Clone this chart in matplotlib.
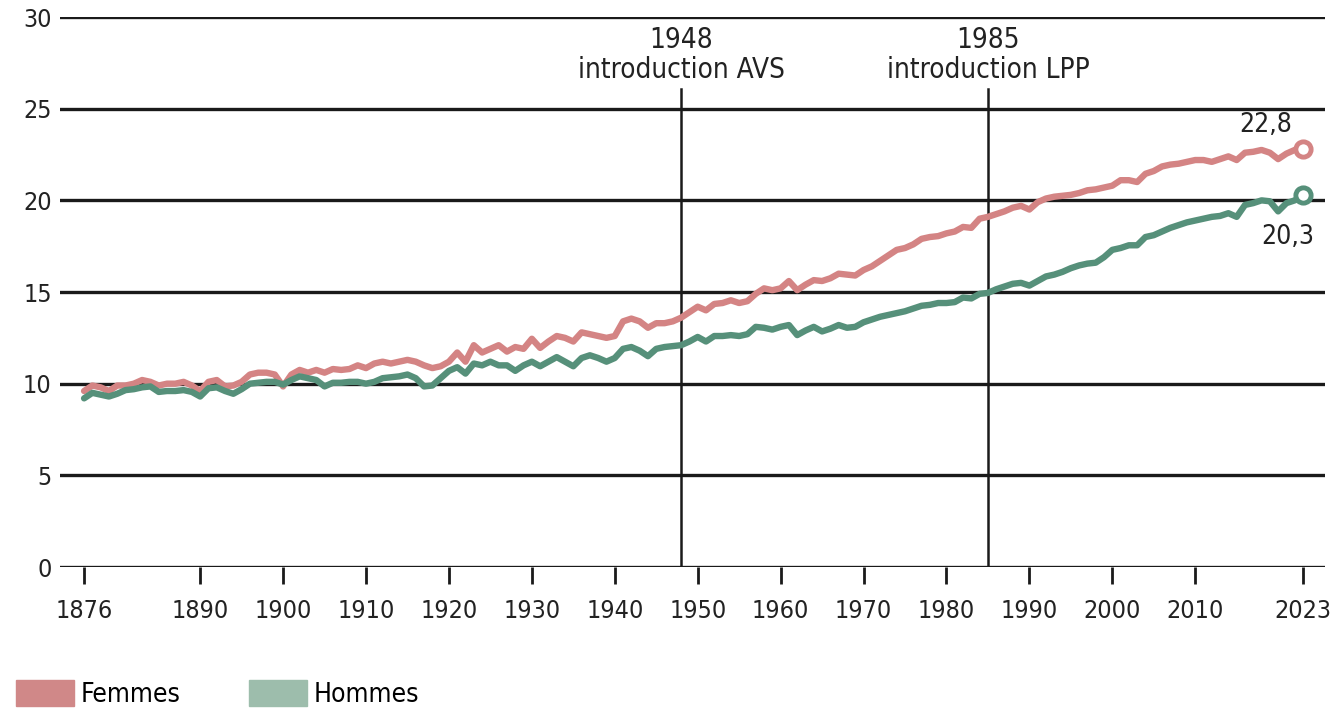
import matplotlib
matplotlib.use("Agg")
import matplotlib.pyplot as plt
from matplotlib.patches import Patch
from matplotlib import font_manager

# data: life expectancy at 65, yearly 1876-2023
years = list(range(1876, 2024))

femmes = [
    9.6, 9.9, 9.8, 9.6, 9.9, 9.9, 10.0, 10.2, 10.1, 9.9,
    10.0, 10.0, 10.1, 9.9, 9.6, 10.1, 10.2, 9.85, 9.9, 10.1,
    10.5, 10.6, 10.6, 10.5, 9.85, 10.5, 10.75, 10.6, 10.75, 10.6,
    10.8, 10.75, 10.8, 11.0, 10.85, 11.1, 11.2, 11.1, 11.2, 11.3,
    11.2, 11.0, 10.85, 10.95, 11.2, 11.7, 11.2, 12.1, 11.7, 11.9,
    12.1, 11.75, 12.0, 11.9, 12.45, 11.95, 12.3, 12.6, 12.5, 12.3,
    12.8, 12.7, 12.6, 12.5, 12.6, 13.4, 13.55, 13.4, 13.05, 13.3,
    13.3, 13.4, 13.6, 13.9, 14.2, 14.0, 14.35, 14.4, 14.55, 14.4,
    14.5, 14.9, 15.2, 15.1, 15.2, 15.6, 15.1, 15.4, 15.65, 15.6,
    15.75, 16.0, 15.95, 15.9, 16.2, 16.4, 16.7, 17.0, 17.3, 17.4,
    17.6, 17.9, 18.0, 18.05, 18.2, 18.3, 18.55, 18.5, 19.0, 19.1,
    19.25, 19.4, 19.6, 19.7, 19.5, 19.9, 20.1, 20.2, 20.25, 20.3,
    20.4, 20.55, 20.6, 20.7, 20.8, 21.1, 21.1, 21.0, 21.45, 21.6,
    21.85, 21.95, 22.0, 22.1, 22.2, 22.2, 22.1, 22.25, 22.4, 22.2,
    22.6, 22.65, 22.75, 22.6, 22.25, 22.55, 22.75, 22.8,
]

hommes = [
    9.2, 9.5, 9.4, 9.3, 9.45, 9.65, 9.7, 9.8, 9.85, 9.55,
    9.6, 9.6, 9.65, 9.55, 9.3, 9.75, 9.8, 9.6, 9.45, 9.7,
    10.0, 10.05, 10.1, 10.1, 9.95, 10.2, 10.4, 10.3, 10.2, 9.85,
    10.05, 10.05, 10.1, 10.1, 10.0, 10.1, 10.3, 10.35, 10.4, 10.5,
    10.3, 9.85, 9.9, 10.3, 10.7, 10.9, 10.55, 11.1, 11.0, 11.2,
    11.0, 11.0, 10.7, 11.0, 11.2, 10.95, 11.2, 11.45, 11.2, 10.95,
    11.4, 11.55, 11.4, 11.2, 11.4, 11.9, 12.0, 11.8, 11.5, 11.9,
    12.0, 12.05, 12.1, 12.3, 12.55, 12.3, 12.6, 12.6, 12.65, 12.6,
    12.7, 13.1, 13.05, 12.95, 13.1, 13.2, 12.65, 12.9, 13.1, 12.85,
    13.0, 13.2, 13.05, 13.1, 13.35, 13.5, 13.65, 13.75, 13.85, 13.95,
    14.1, 14.25, 14.3, 14.4, 14.4, 14.45, 14.7, 14.65, 14.9, 14.95,
    15.15, 15.3, 15.45, 15.5, 15.35, 15.6, 15.85, 15.95, 16.1, 16.3,
    16.45, 16.55, 16.6, 16.9, 17.3, 17.4, 17.55, 17.55, 18.0, 18.1,
    18.3, 18.5, 18.65, 18.8, 18.9, 19.0, 19.1, 19.15, 19.3, 19.1,
    19.75, 19.85, 20.0, 19.95, 19.4, 19.85, 20.0, 20.3,
]

xticks = [1876, 1890, 1900, 1910, 1920, 1930, 1940, 1950, 1960,
          1970, 1980, 1990, 2000, 2010, 2023]
yticks = [0, 5, 10, 15, 20, 25, 30]
events = [(1948, "1948\nintroduction AVS"), (1985, "1985\nintroduction LPP")]

pink = "#d48484"
green = "#56907a"
pink_legend = "#d08888"
green_legend = "#9dbdac"

# narrow font if one is around, otherwise plain DejaVu
names = {f.name for f in font_manager.fontManager.ttflist}
condensed = [f for f in font_manager.fontManager.ttflist
             if f.name == "DejaVu Sans" and f.stretch == "condensed"]
if "Liberation Sans Narrow" in names:
    plt.rcParams["font.family"] = ["Liberation Sans Narrow", "DejaVu Sans"]
    fs = 19
elif condensed:
    plt.rcParams["font.family"] = ["DejaVu Sans"]
    plt.rcParams["font.stretch"] = "condensed"
    fs = 18
else:
    plt.rcParams["font.family"] = ["DejaVu Sans"]
    fs = 16

fig = plt.figure(figsize=(13.4, 7.1), dpi=100)
ax = fig.add_axes([0.0448, 0.2014, 0.944, 0.7746])

for y in yticks:
    ax.axhline(y, color="#1a1a1a", lw=2.4, zorder=1)

for yr, label in events:
    ax.plot([yr, yr], [0, 26.1], color="#1a1a1a", lw=1.8, zorder=1)
    ax.text(yr, 26.35, label, ha="center", va="bottom", fontsize=fs + 2,
            color="#222222", linespacing=1.1)

ax.plot(years, femmes, color=pink, lw=4.6, zorder=3, solid_capstyle="round")
ax.plot(years, hommes, color=green, lw=4.6, zorder=3, solid_capstyle="round")
ax.plot(years[-1], femmes[-1], "o", ms=11, mfc="white", mec=pink, mew=3.5, zorder=4)
ax.plot(years[-1], hommes[-1], "o", ms=11, mfc="white", mec=green, mew=3.5, zorder=4)

ax.text(years[-1] - 4.5, femmes[-1] + 0.6, "22,8", ha="center", va="bottom",
        fontsize=fs + 1, color="#222222")
ax.text(years[-1] - 1.8, hommes[-1] - 1.6, "20,3", ha="center", va="top",
        fontsize=fs + 1, color="#222222")

ax.set_xlim(1873.1, 2025.65)
ax.set_ylim(0, 30)
ax.set_xticks(xticks)
ax.set_xticklabels([str(t) for t in xticks])
ax.set_yticks(yticks)
ax.set_yticklabels([str(t) for t in yticks])
ax.tick_params(axis="x", length=12, width=2, color="#1a1a1a", pad=11,
               labelsize=fs, labelcolor="#222222")
ax.tick_params(axis="y", length=0, pad=6, labelsize=fs, labelcolor="#222222")
for s in ax.spines.values():
    s.set_visible(False)

handles = [Patch(color=pink_legend, label="Femmes"),
           Patch(color=green_legend, label="Hommes")]
fig.legend(handles=handles, loc="lower left", bbox_to_anchor=(-0.006, -0.03),
           ncol=2, frameon=False, fontsize=fs + 1, handlelength=2.2,
           handleheight=1.15, handletextpad=0.25, columnspacing=2.6)

fig.savefig("out.png", dpi=100)
